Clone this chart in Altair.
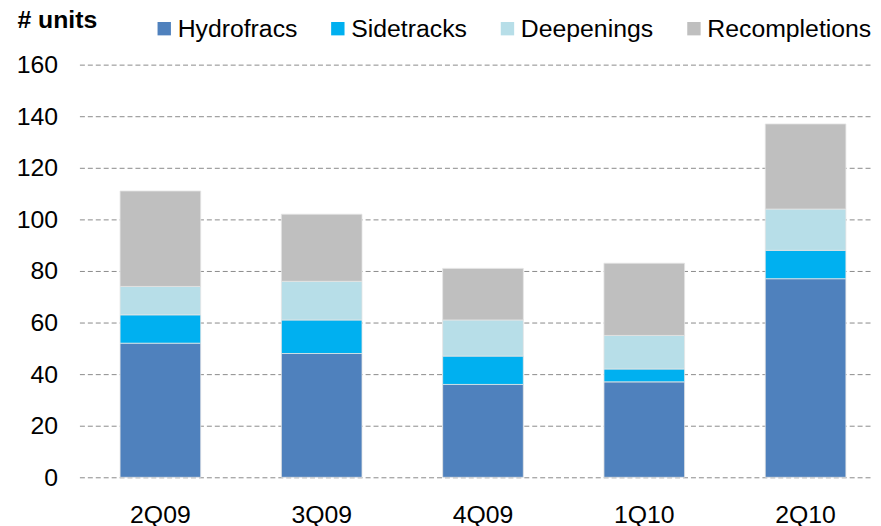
import altair as alt
import pandas as pd

quarters = ["2Q09", "3Q09", "4Q09", "1Q10", "2Q10"]
series = ["Hydrofracs", "Sidetracks", "Deepenings", "Recompletions"]
hydrofracs = [52, 48, 36, 37, 77]
sidetracks = [11, 13, 11, 5, 11]
deepenings = [11, 15, 14, 13, 16]
recompletions = [37, 26, 20, 28, 33]
colors = ["#4F81BD", "#00B0F0", "#B7DEE8", "#BFBFBF"]
y_ticks = [0, 20, 40, 60, 80, 100, 120, 140, 160]

values = [hydrofracs, sidetracks, deepenings, recompletions]
rows = []
for si, (name, vals) in enumerate(zip(series, values)):
    for q, v in zip(quarters, vals):
        rows.append({"quarter": q, "series": name, "units": v, "order": si})
df = pd.DataFrame(rows)

FONT = "Liberation Sans"

chart = (
    alt.Chart(df)
    .mark_bar(stroke="#E4E4E4", strokeWidth=0.8)
    .encode(
        x=alt.X(
            "quarter:N",
            sort=quarters,
            title=None,
            scale=alt.Scale(paddingInner=0.5, paddingOuter=0.21, align=0.6),
            axis=alt.Axis(
                labelAngle=0,
                labelFontSize=25,
                labelFont=FONT,
                labelColor="black",
                labelPadding=26,
                ticks=False,
                tickSize=0,
                domain=False,
                grid=False,
            ),
        ),
        y=alt.Y(
            "units:Q",
            stack="zero",
            title="# units",
            scale=alt.Scale(domain=[0, 160], nice=False),
            axis=alt.Axis(
                values=y_ticks,
                labelFontSize=25,
                labelFont=FONT,
                labelColor="black",
                labelPadding=22,
                ticks=False,
                tickSize=0,
                domain=False,
                grid=True,
                gridColor="#8A8A8A",
                gridDash=[5, 3],
                gridWidth=1,
                titleAngle=0,
                titleX=-63,
                titleY=-37,
                titleAlign="left",
                titleBaseline="alphabetic",
                titleFontSize=25,
                titleFontWeight="bold",
                titleFont=FONT,
                titleColor="black",
            ),
        ),
        color=alt.Color(
            "series:N",
            sort=series,
            scale=alt.Scale(domain=series, range=colors),
            legend=alt.Legend(
                title=None,
                orient="none",
                direction="horizontal",
                legendX=73,
                legendY=-49,
                symbolType="square",
                symbolSize=182,
                symbolStrokeWidth=0,
                labelFontSize=25,
                labelFont=FONT,
                labelColor="black",
                labelOffset=1,
                labelLimit=400,
                columnPadding=28,
                padding=0,
            ),
        ),
        order=alt.Order("order:Q", sort="ascending"),
    )
    .properties(
        width=800,
        height=416,
        autosize=alt.AutoSizeParams(type="none"),
        padding={"left": 72, "top": 55, "right": 0, "bottom": 47},
    )
    .configure_view(stroke=None)
)

chart.save("out.html", embed_options={"renderer": "svg", "actions": False})
